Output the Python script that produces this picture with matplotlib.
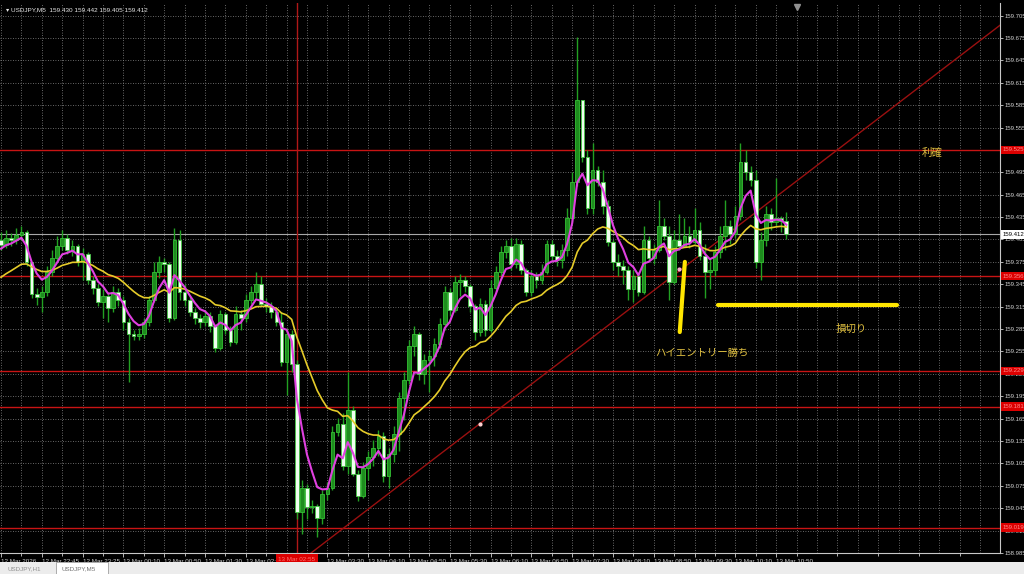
#USDJPY M5 - recriacao do grafico MT4 com anotacoes
import matplotlib
matplotlib.use("Agg")
import matplotlib.pyplot as plt
import matplotlib.transforms as mtrans
from matplotlib.patches import Rectangle
import numpy as np

plt.rcParams['font.family'] = ['DejaVu Sans']

# ---- dados (precos) ----
open0 = 159.404
closes = [159.398, 159.407, 159.404, 159.411, 159.415, 159.375, 159.332, 159.328, 159.335, 159.362,
          159.380, 159.396, 159.407, 159.391, 159.396, 159.375, 159.386, 159.351, 159.340, 159.321,
          159.329, 159.313, 159.335, 159.324, 159.295, 159.279, 159.276, 159.279, 159.295, 159.324,
          159.362, 159.375, 159.372, 159.300, 159.404, 159.335, 159.324, 159.308, 159.300, 159.295,
          159.303, 159.289, 159.260, 159.305, 159.284, 159.268, 159.305, 159.300, 159.324, 159.335,
          159.346, 159.319, 159.316, 159.308, 159.295, 159.241, 159.279, 159.238, 159.040, 159.072,
          159.046, 159.048, 159.032, 159.064, 159.072, 159.147, 159.158, 159.102, 159.177, 159.091,
          159.062, 159.099, 159.113, 159.126, 159.142, 159.088, 159.118, 159.145, 159.193, 159.217,
          159.262, 159.279, 159.225, 159.244, 159.249, 159.265, 159.292, 159.335, 159.311, 159.348,
          159.351, 159.343, 159.316, 159.281, 159.319, 159.284, 159.340, 159.362, 159.388, 159.396,
          159.372, 159.399, 159.364, 159.335, 159.356, 159.351, 159.362, 159.399, 159.383, 159.378,
          159.391, 159.434, 159.482, 159.592, 159.516, 159.447, 159.498, 159.482, 159.450, 159.402,
          159.375, 159.370, 159.364, 159.338, 159.356, 159.335, 159.404, 159.380, 159.391, 159.423,
          159.410, 159.348, 159.404, 159.396, 159.410, 159.402, 159.418, 159.383, 159.362, 159.364,
          159.388, 159.410, 159.423, 159.412, 159.437, 159.509, 159.496, 159.485, 159.375, 159.404,
          159.439, 159.429, 159.434, 159.430, 159.412]
highs = [159.415, 159.418, 159.414, 159.421, 159.423, 159.418, 159.375, 159.340, 159.343, 159.370,
         159.391, 159.410, 159.418, 159.412, 159.404, 159.399, 159.394, 159.388, 159.356, 159.346,
         159.338, 159.335, 159.343, 159.340, 159.329, 159.300, 159.284, 159.287, 159.300, 159.329,
         159.375, 159.383, 159.380, 159.375, 159.421, 159.418, 159.346, 159.329, 159.313, 159.305,
         159.311, 159.308, 159.292, 159.311, 159.308, 159.289, 159.316, 159.311, 159.332, 159.343,
         159.362, 159.356, 159.327, 159.321, 159.313, 159.308, 159.287, 159.284, 159.244, 159.083,
         159.078, 159.056, 159.051, 159.070, 159.080, 159.155, 159.166, 159.172, 159.228, 159.182,
         159.096, 159.107, 159.121, 159.137, 159.150, 159.147, 159.126, 159.155, 159.201, 159.228,
         159.271, 159.289, 159.281, 159.252, 159.257, 159.273, 159.300, 159.343, 159.340, 159.356,
         159.359, 159.356, 159.346, 159.319, 159.327, 159.324, 159.351, 159.370, 159.396, 159.404,
         159.407, 159.407, 159.404, 159.367, 159.364, 159.362, 159.372, 159.404, 159.404, 159.391,
         159.399, 159.447, 159.496, 159.676, 159.592, 159.525, 159.534, 159.504, 159.498, 159.458,
         159.404, 159.386, 159.378, 159.370, 159.364, 159.362, 159.423, 159.410, 159.399, 159.458,
         159.434, 159.423, 159.418, 159.439, 159.434, 159.423, 159.447, 159.429, 159.399, 159.380,
         159.396, 159.423, 159.458, 159.431, 159.450, 159.534, 159.525, 159.504, 159.498, 159.415,
         159.450, 159.447, 159.487, 159.437, 159.442]
lows = [159.391, 159.394, 159.396, 159.399, 159.404, 159.370, 159.327, 159.317, 159.308, 159.329,
        159.356, 159.375, 159.391, 159.386, 159.383, 159.370, 159.351, 159.346, 159.332, 159.316,
        159.300, 159.295, 159.308, 159.316, 159.284, 159.214, 159.271, 159.271, 159.273, 159.289,
        159.321, 159.354, 159.362, 159.295, 159.297, 159.324, 159.316, 159.303, 159.292, 159.287,
        159.289, 159.281, 159.254, 159.257, 159.279, 159.262, 159.265, 159.284, 159.295, 159.319,
        159.327, 159.316, 159.308, 159.300, 159.289, 159.236, 159.196, 159.228, 159.030, 159.011,
        159.030, 159.038, 159.007, 159.024, 159.056, 159.070, 159.142, 159.096, 159.091, 159.088,
        159.054, 159.059, 159.083, 159.102, 159.115, 159.080, 159.072, 159.107, 159.121, 159.163,
        159.212, 159.249, 159.217, 159.212, 159.201, 159.236, 159.260, 159.284, 159.303, 159.308,
        159.329, 159.335, 159.308, 159.271, 159.276, 159.276, 159.281, 159.335, 159.356, 159.380,
        159.364, 159.367, 159.359, 159.329, 159.329, 159.340, 159.346, 159.359, 159.375, 159.370,
        159.367, 159.383, 159.429, 159.477, 159.509, 159.439, 159.439, 159.477, 159.439, 159.396,
        159.364, 159.356, 159.346, 159.324, 159.321, 159.329, 159.332, 159.375, 159.372, 159.388,
        159.404, 159.324, 159.346, 159.391, 159.399, 159.394, 159.399, 159.378, 159.327, 159.338,
        159.356, 159.380, 159.391, 159.399, 159.407, 159.431, 159.485, 159.477, 159.367, 159.351,
        159.396, 159.418, 159.423, 159.415, 159.405]

time_labels = ["12 Mar 2026", "12 Mar 22:45", "12 Mar 23:25", "13 Mar 00:10", "13 Mar 00:50",
               "13 Mar 01:30", "13 Mar 02:10", "13 Mar 02:50", "13 Mar 03:30", "13 Mar 04:10",
               "13 Mar 04:50", "13 Mar 05:30", "13 Mar 06:10", "13 Mar 06:50", "13 Mar 07:30",
               "13 Mar 08:10", "13 Mar 08:50", "13 Mar 09:30", "13 Mar 10:10", "13 Mar 10:50"]
price_ticks = [158.985, 159.015, 159.045, 159.075, 159.105, 159.135, 159.165, 159.195, 159.225,
               159.255, 159.285, 159.315, 159.345, 159.375, 159.405, 159.435, 159.465, 159.495,
               159.525, 159.555, 159.585, 159.615, 159.645, 159.675, 159.705]

niveis = [159.525, 159.356, 159.229, 159.181, 159.019]   # linhas horizontais vermelhas
preco_atual = 159.412
trend_x = [60.6, 195.9]
trend_y = [158.984, 159.692]
cursor_bar = 58
cursor_label = "13 Mar 02:55"
ma_fast_seed, ma_slow_seed = 159.390, 159.350


def ema(vals, span, seed):
    k = 2.0 / (span + 1)
    out, v = [], seed
    for x in vals:
        v = v + k * (x - v)
        out.append(v)
    return np.array(out)


FONTE = 'Liberation Sans'   # fonte dos eixos, parecida com a do MT4

c = np.array(closes)
h = np.array(highs)
l = np.array(lows)
o = np.r_[open0, c[:-1]]
idx = np.arange(len(c))
up = c >= o

fig = plt.figure(figsize=(10.24, 5.74), dpi=100, facecolor='black')
ax = fig.add_axes([0, 21 / 574, 1000 / 1024, 550 / 574], facecolor='black')
ax.set_xlim(-0.2, 195.9)
ax.set_ylim(158.9853, 159.7218)

# grade pontilhada
for p in price_ticks:
    ax.axhline(p, color='#8a8a8a', lw=0.6, ls=(0, (1, 2)), zorder=0)
for b in range(0, 196, 4):
    ax.axvline(b, color='#8a8a8a', lw=0.6, ls=(0, (1, 2)), zorder=0)

# niveis, linha de tendencia, cursor
for n in niveis:
    ax.axhline(n, color='#c81414', lw=1.0, zorder=1)
ax.axhline(preco_atual, color='#a8a8a8', lw=0.8, zorder=1)
ax.plot(trend_x, trend_y, color='#9a1010', lw=1.0, zorder=1)
ax.axvline(cursor_bar, color='#b01818', lw=1.0, zorder=1)

# candles
ax.vlines(idx, l, h, color='#22a022', lw=1.0, zorder=3)
corpo = np.where(np.abs(c - o) < 0.0012, 0.0012, np.abs(c - o))
base = np.minimum(o, c)
ax.bar(idx[up], corpo[up], bottom=base[up], width=0.72, color='#1e8c1e',
       edgecolor='#34c034', lw=0.6, zorder=4)
ax.bar(idx[~up], corpo[~up], bottom=base[~up], width=0.72, color='#f0fff0',
       edgecolor='#46c846', lw=0.6, zorder=4)

# medias moveis
ax.plot(idx, ema(c, 21, ma_slow_seed), color='#e6cc2a', lw=1.2, zorder=5)
ax.plot(idx, ema(c, 5, ma_fast_seed), color='#e040e0', lw=1.5, zorder=6)

# pontos pequenos
ax.plot([93.9], [159.158], 'o', color='#ffd0d0', ms=2, zorder=6)
ax.plot([132.9], [159.365], 'o', color='#ffb0d0', ms=2, zorder=6)

# anotacoes manuscritas
jp = ['Noto Sans CJK JP', 'DejaVu Sans']
ax.plot([134.1, 133.1], [159.375, 159.281], color='#ffe600', lw=3, solid_capstyle='round', zorder=7)
ax.plot([140.6, 175.7], [159.317, 159.317], color='#ffe600', lw=3, solid_capstyle='round', zorder=7)
ax.text(180.6, 159.521, "利確", family=jp, fontsize=7.5, color='#e0c040', va='center', ha='left', zorder=8)
ax.text(163.7, 159.285, "損切り", family=jp, fontsize=7.5, color='#e0c040', va='center', ha='left', zorder=8)
ax.text(128.2, 159.253, "ハイエントリー勝ち", family=jp, fontsize=7.5, color='#e0c040', va='center',
        ha='left', zorder=8)

# eixos no estilo MT4
for s in ['top', 'left']:
    ax.spines[s].set_visible(False)
for s in ['right', 'bottom']:
    ax.spines[s].set_color('#c8c8c8')
    ax.spines[s].set_linewidth(0.8)
ax.yaxis.tick_right()
ax.set_yticks(price_ticks)
ax.set_yticklabels([f"{p:.3f}" for p in price_ticks])
ax.tick_params(axis='y', colors='#d0d0d0', length=2, pad=1.0, width=0.6)
ax.set_xticks(range(0, 153, 8))
ax.set_xticklabels(time_labels)
ax.set_xticks(range(4, 196, 8), minor=True)
ax.tick_params(axis='x', which='both', colors='#d0d0d0', length=3, pad=1.5, width=0.6)
ax.tick_params(axis='x', which='minor', length=2)
for i, t in enumerate(ax.get_xticklabels()):
    t.set_ha('left')
    t.set_fontfamily(FONTE)
    t.set_fontsize(4.5)
    if i == 7:
        t.set_visible(False)   # escondido pela caixa do cursor
for t in ax.get_yticklabels():
    t.set_fontfamily(FONTE)
    t.set_fontsize(4.3)

# caixas de preco no eixo direito
ytr = mtrans.blended_transform_factory(ax.transAxes, ax.transData)
for n in niveis:
    ax.text(1.0025, n, f"{n:.3f}", transform=ytr, fontsize=4.3, family=FONTE,
            color='#ff8a8a', va='center', ha='left',
            bbox=dict(facecolor='#dc0000', edgecolor='none', pad=1.3), clip_on=False, zorder=10)
ax.text(1.0025, preco_atual, f"{preco_atual:.3f}", transform=ytr, fontsize=4.3, family=FONTE,
        color='black', va='center', ha='left', bbox=dict(facecolor='white', edgecolor='none', pad=1.3),
        clip_on=False, zorder=10)

xtr = mtrans.blended_transform_factory(ax.transData, ax.transAxes)
ax.text(cursor_bar, -0.0115, cursor_label, transform=xtr, fontsize=4.5, family=FONTE,
        color='#ff7070', va='center', ha='center',
        bbox=dict(facecolor='#dc0000', edgecolor='none', pad=1.8), clip_on=False, zorder=10)

# titulo
ax.text(0.006, 0.992, "▾ USDJPY,M5  159.430 159.442 159.405 159.412", transform=ax.transAxes,
        fontsize=4.6, family=[FONTE, 'DejaVu Sans'], color='#e8e8e8', va='top', ha='left')
ax.plot([156], [159.716], marker='v', color='#909090', ms=4, clip_on=False)

# barra de abas inferior
fig.patches.append(Rectangle((0, 0), 1, 12 / 574, transform=fig.transFigure,
                             facecolor='#ececec', edgecolor='none'))
fig.patches.append(Rectangle((56 / 1024, 0), 52 / 1024, 12 / 574, transform=fig.transFigure,
                             facecolor='white', edgecolor='#a0a0a0', lw=0.6))
fig.text(8 / 1024, 5 / 574, "USDJPY,H1", fontsize=4.5, family=FONTE, color='#909090', va='center')
fig.text(62 / 1024, 5 / 574, "USDJPY,M5", fontsize=4.5, family=FONTE, color='#707070', va='center')

fig.savefig("out.png", dpi=100, facecolor='black')
